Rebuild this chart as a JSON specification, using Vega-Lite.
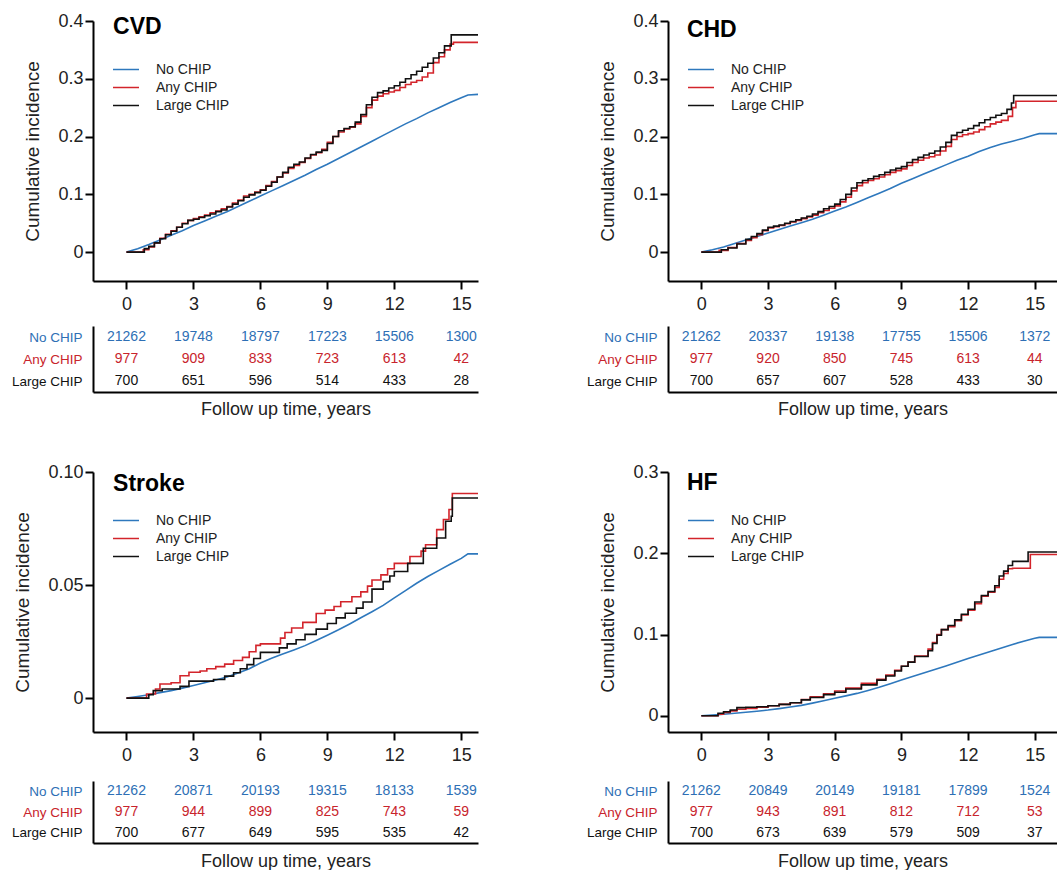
{
  "$schema": "https://vega.github.io/schema/vega-lite/v6.json",
  "padding": {"left": 11, "top": 12, "right": 0, "bottom": 0},
  "background": "white",
  "datasets": {
    "titles": [{"panel": "CVD"}, {"panel": "CHD"}, {"panel": "Stroke"}, {"panel": "HF"}],
    "risk": [
      {"panel":"CVD","group":"No CHIP","year":0,"n":21262},{"panel":"CVD","group":"No CHIP","year":3,"n":19748},{"panel":"CVD","group":"No CHIP","year":6,"n":18797},{"panel":"CVD","group":"No CHIP","year":9,"n":17223},{"panel":"CVD","group":"No CHIP","year":12,"n":15506},{"panel":"CVD","group":"No CHIP","year":15,"n":1300},
      {"panel":"CVD","group":"Any CHIP","year":0,"n":977},{"panel":"CVD","group":"Any CHIP","year":3,"n":909},{"panel":"CVD","group":"Any CHIP","year":6,"n":833},{"panel":"CVD","group":"Any CHIP","year":9,"n":723},{"panel":"CVD","group":"Any CHIP","year":12,"n":613},{"panel":"CVD","group":"Any CHIP","year":15,"n":42},
      {"panel":"CVD","group":"Large CHIP","year":0,"n":700},{"panel":"CVD","group":"Large CHIP","year":3,"n":651},{"panel":"CVD","group":"Large CHIP","year":6,"n":596},{"panel":"CVD","group":"Large CHIP","year":9,"n":514},{"panel":"CVD","group":"Large CHIP","year":12,"n":433},{"panel":"CVD","group":"Large CHIP","year":15,"n":28},
      {"panel":"CHD","group":"No CHIP","year":0,"n":21262},{"panel":"CHD","group":"No CHIP","year":3,"n":20337},{"panel":"CHD","group":"No CHIP","year":6,"n":19138},{"panel":"CHD","group":"No CHIP","year":9,"n":17755},{"panel":"CHD","group":"No CHIP","year":12,"n":15506},{"panel":"CHD","group":"No CHIP","year":15,"n":1372},
      {"panel":"CHD","group":"Any CHIP","year":0,"n":977},{"panel":"CHD","group":"Any CHIP","year":3,"n":920},{"panel":"CHD","group":"Any CHIP","year":6,"n":850},{"panel":"CHD","group":"Any CHIP","year":9,"n":745},{"panel":"CHD","group":"Any CHIP","year":12,"n":613},{"panel":"CHD","group":"Any CHIP","year":15,"n":44},
      {"panel":"CHD","group":"Large CHIP","year":0,"n":700},{"panel":"CHD","group":"Large CHIP","year":3,"n":657},{"panel":"CHD","group":"Large CHIP","year":6,"n":607},{"panel":"CHD","group":"Large CHIP","year":9,"n":528},{"panel":"CHD","group":"Large CHIP","year":12,"n":433},{"panel":"CHD","group":"Large CHIP","year":15,"n":30},
      {"panel":"Stroke","group":"No CHIP","year":0,"n":21262},{"panel":"Stroke","group":"No CHIP","year":3,"n":20871},{"panel":"Stroke","group":"No CHIP","year":6,"n":20193},{"panel":"Stroke","group":"No CHIP","year":9,"n":19315},{"panel":"Stroke","group":"No CHIP","year":12,"n":18133},{"panel":"Stroke","group":"No CHIP","year":15,"n":1539},
      {"panel":"Stroke","group":"Any CHIP","year":0,"n":977},{"panel":"Stroke","group":"Any CHIP","year":3,"n":944},{"panel":"Stroke","group":"Any CHIP","year":6,"n":899},{"panel":"Stroke","group":"Any CHIP","year":9,"n":825},{"panel":"Stroke","group":"Any CHIP","year":12,"n":743},{"panel":"Stroke","group":"Any CHIP","year":15,"n":59},
      {"panel":"Stroke","group":"Large CHIP","year":0,"n":700},{"panel":"Stroke","group":"Large CHIP","year":3,"n":677},{"panel":"Stroke","group":"Large CHIP","year":6,"n":649},{"panel":"Stroke","group":"Large CHIP","year":9,"n":595},{"panel":"Stroke","group":"Large CHIP","year":12,"n":535},{"panel":"Stroke","group":"Large CHIP","year":15,"n":42},
      {"panel":"HF","group":"No CHIP","year":0,"n":21262},{"panel":"HF","group":"No CHIP","year":3,"n":20849},{"panel":"HF","group":"No CHIP","year":6,"n":20149},{"panel":"HF","group":"No CHIP","year":9,"n":19181},{"panel":"HF","group":"No CHIP","year":12,"n":17899},{"panel":"HF","group":"No CHIP","year":15,"n":1524},
      {"panel":"HF","group":"Any CHIP","year":0,"n":977},{"panel":"HF","group":"Any CHIP","year":3,"n":943},{"panel":"HF","group":"Any CHIP","year":6,"n":891},{"panel":"HF","group":"Any CHIP","year":9,"n":812},{"panel":"HF","group":"Any CHIP","year":12,"n":712},{"panel":"HF","group":"Any CHIP","year":15,"n":53},
      {"panel":"HF","group":"Large CHIP","year":0,"n":700},{"panel":"HF","group":"Large CHIP","year":3,"n":673},{"panel":"HF","group":"Large CHIP","year":6,"n":639},{"panel":"HF","group":"Large CHIP","year":9,"n":579},{"panel":"HF","group":"Large CHIP","year":12,"n":509},{"panel":"HF","group":"Large CHIP","year":15,"n":37}
    ],
    "curves": [
      {"panel":"CVD","group":"No CHIP","year":0,"ci":0},{"panel":"CVD","group":"No CHIP","year":0.5,"ci":0.006},{"panel":"CVD","group":"No CHIP","year":1,"ci":0.013},{"panel":"CVD","group":"No CHIP","year":1.5,"ci":0.021},{"panel":"CVD","group":"No CHIP","year":2,"ci":0.029},{"panel":"CVD","group":"No CHIP","year":2.5,"ci":0.037},{"panel":"CVD","group":"No CHIP","year":3,"ci":0.046},{"panel":"CVD","group":"No CHIP","year":3.5,"ci":0.054},{"panel":"CVD","group":"No CHIP","year":4,"ci":0.062},{"panel":"CVD","group":"No CHIP","year":4.5,"ci":0.07},{"panel":"CVD","group":"No CHIP","year":5,"ci":0.079},{"panel":"CVD","group":"No CHIP","year":5.5,"ci":0.088},{"panel":"CVD","group":"No CHIP","year":6,"ci":0.097},{"panel":"CVD","group":"No CHIP","year":6.5,"ci":0.106},{"panel":"CVD","group":"No CHIP","year":7,"ci":0.115},{"panel":"CVD","group":"No CHIP","year":7.5,"ci":0.124},{"panel":"CVD","group":"No CHIP","year":8,"ci":0.133},{"panel":"CVD","group":"No CHIP","year":8.5,"ci":0.143},{"panel":"CVD","group":"No CHIP","year":9,"ci":0.152},{"panel":"CVD","group":"No CHIP","year":9.5,"ci":0.162},{"panel":"CVD","group":"No CHIP","year":10,"ci":0.172},{"panel":"CVD","group":"No CHIP","year":10.5,"ci":0.182},{"panel":"CVD","group":"No CHIP","year":11,"ci":0.192},{"panel":"CVD","group":"No CHIP","year":11.5,"ci":0.202},{"panel":"CVD","group":"No CHIP","year":12,"ci":0.212},{"panel":"CVD","group":"No CHIP","year":12.5,"ci":0.222},{"panel":"CVD","group":"No CHIP","year":13,"ci":0.231},{"panel":"CVD","group":"No CHIP","year":13.5,"ci":0.241},{"panel":"CVD","group":"No CHIP","year":14,"ci":0.25},{"panel":"CVD","group":"No CHIP","year":14.5,"ci":0.259},{"panel":"CVD","group":"No CHIP","year":15,"ci":0.267},{"panel":"CVD","group":"No CHIP","year":15.3,"ci":0.272},{"panel":"CVD","group":"No CHIP","year":15.75,"ci":0.273},
      {"panel":"CVD","group":"Any CHIP","year":0,"ci":0},{"panel":"CVD","group":"Any CHIP","year":0.75,"ci":0.004},{"panel":"CVD","group":"Any CHIP","year":1,"ci":0.009},{"panel":"CVD","group":"Any CHIP","year":1.25,"ci":0.016},{"panel":"CVD","group":"Any CHIP","year":1.5,"ci":0.024},{"panel":"CVD","group":"Any CHIP","year":1.75,"ci":0.031},{"panel":"CVD","group":"Any CHIP","year":2,"ci":0.037},{"panel":"CVD","group":"Any CHIP","year":2.25,"ci":0.043},{"panel":"CVD","group":"Any CHIP","year":2.5,"ci":0.05},{"panel":"CVD","group":"Any CHIP","year":2.75,"ci":0.055},{"panel":"CVD","group":"Any CHIP","year":3,"ci":0.058},{"panel":"CVD","group":"Any CHIP","year":3.25,"ci":0.061},{"panel":"CVD","group":"Any CHIP","year":3.5,"ci":0.064},{"panel":"CVD","group":"Any CHIP","year":3.75,"ci":0.068},{"panel":"CVD","group":"Any CHIP","year":4,"ci":0.071},{"panel":"CVD","group":"Any CHIP","year":4.25,"ci":0.075},{"panel":"CVD","group":"Any CHIP","year":4.5,"ci":0.079},{"panel":"CVD","group":"Any CHIP","year":4.75,"ci":0.085},{"panel":"CVD","group":"Any CHIP","year":5,"ci":0.09},{"panel":"CVD","group":"Any CHIP","year":5.25,"ci":0.097},{"panel":"CVD","group":"Any CHIP","year":5.5,"ci":0.1},{"panel":"CVD","group":"Any CHIP","year":5.75,"ci":0.104},{"panel":"CVD","group":"Any CHIP","year":6,"ci":0.108},{"panel":"CVD","group":"Any CHIP","year":6.25,"ci":0.115},{"panel":"CVD","group":"Any CHIP","year":6.5,"ci":0.122},{"panel":"CVD","group":"Any CHIP","year":6.75,"ci":0.13},{"panel":"CVD","group":"Any CHIP","year":7,"ci":0.137},{"panel":"CVD","group":"Any CHIP","year":7.25,"ci":0.145},{"panel":"CVD","group":"Any CHIP","year":7.5,"ci":0.15},{"panel":"CVD","group":"Any CHIP","year":7.75,"ci":0.155},{"panel":"CVD","group":"Any CHIP","year":8,"ci":0.162},{"panel":"CVD","group":"Any CHIP","year":8.25,"ci":0.168},{"panel":"CVD","group":"Any CHIP","year":8.5,"ci":0.172},{"panel":"CVD","group":"Any CHIP","year":8.75,"ci":0.178},{"panel":"CVD","group":"Any CHIP","year":9,"ci":0.19},{"panel":"CVD","group":"Any CHIP","year":9.25,"ci":0.2},{"panel":"CVD","group":"Any CHIP","year":9.5,"ci":0.208},{"panel":"CVD","group":"Any CHIP","year":9.75,"ci":0.213},{"panel":"CVD","group":"Any CHIP","year":10,"ci":0.216},{"panel":"CVD","group":"Any CHIP","year":10.25,"ci":0.222},{"panel":"CVD","group":"Any CHIP","year":10.5,"ci":0.235},{"panel":"CVD","group":"Any CHIP","year":10.75,"ci":0.25},{"panel":"CVD","group":"Any CHIP","year":11,"ci":0.263},{"panel":"CVD","group":"Any CHIP","year":11.25,"ci":0.27},{"panel":"CVD","group":"Any CHIP","year":11.5,"ci":0.274},{"panel":"CVD","group":"Any CHIP","year":11.75,"ci":0.277},{"panel":"CVD","group":"Any CHIP","year":12,"ci":0.28},{"panel":"CVD","group":"Any CHIP","year":12.25,"ci":0.285},{"panel":"CVD","group":"Any CHIP","year":12.5,"ci":0.29},{"panel":"CVD","group":"Any CHIP","year":12.75,"ci":0.294},{"panel":"CVD","group":"Any CHIP","year":13,"ci":0.297},{"panel":"CVD","group":"Any CHIP","year":13.25,"ci":0.303},{"panel":"CVD","group":"Any CHIP","year":13.5,"ci":0.31},{"panel":"CVD","group":"Any CHIP","year":13.75,"ci":0.328},{"panel":"CVD","group":"Any CHIP","year":14,"ci":0.338},{"panel":"CVD","group":"Any CHIP","year":14.25,"ci":0.35},{"panel":"CVD","group":"Any CHIP","year":14.5,"ci":0.36},{"panel":"CVD","group":"Any CHIP","year":14.65,"ci":0.363},{"panel":"CVD","group":"Any CHIP","year":15.75,"ci":0.363},
      {"panel":"CVD","group":"Large CHIP","year":0,"ci":0},{"panel":"CVD","group":"Large CHIP","year":0.8,"ci":0.006},{"panel":"CVD","group":"Large CHIP","year":1,"ci":0.01},{"panel":"CVD","group":"Large CHIP","year":1.25,"ci":0.016},{"panel":"CVD","group":"Large CHIP","year":1.5,"ci":0.023},{"panel":"CVD","group":"Large CHIP","year":1.75,"ci":0.03},{"panel":"CVD","group":"Large CHIP","year":2,"ci":0.036},{"panel":"CVD","group":"Large CHIP","year":2.25,"ci":0.043},{"panel":"CVD","group":"Large CHIP","year":2.5,"ci":0.049},{"panel":"CVD","group":"Large CHIP","year":2.75,"ci":0.055},{"panel":"CVD","group":"Large CHIP","year":3,"ci":0.057},{"panel":"CVD","group":"Large CHIP","year":3.25,"ci":0.06},{"panel":"CVD","group":"Large CHIP","year":3.5,"ci":0.063},{"panel":"CVD","group":"Large CHIP","year":3.75,"ci":0.066},{"panel":"CVD","group":"Large CHIP","year":4,"ci":0.07},{"panel":"CVD","group":"Large CHIP","year":4.25,"ci":0.073},{"panel":"CVD","group":"Large CHIP","year":4.5,"ci":0.078},{"panel":"CVD","group":"Large CHIP","year":4.75,"ci":0.083},{"panel":"CVD","group":"Large CHIP","year":5,"ci":0.089},{"panel":"CVD","group":"Large CHIP","year":5.25,"ci":0.095},{"panel":"CVD","group":"Large CHIP","year":5.5,"ci":0.099},{"panel":"CVD","group":"Large CHIP","year":5.75,"ci":0.103},{"panel":"CVD","group":"Large CHIP","year":6,"ci":0.107},{"panel":"CVD","group":"Large CHIP","year":6.25,"ci":0.114},{"panel":"CVD","group":"Large CHIP","year":6.5,"ci":0.121},{"panel":"CVD","group":"Large CHIP","year":6.75,"ci":0.13},{"panel":"CVD","group":"Large CHIP","year":7,"ci":0.138},{"panel":"CVD","group":"Large CHIP","year":7.25,"ci":0.147},{"panel":"CVD","group":"Large CHIP","year":7.5,"ci":0.152},{"panel":"CVD","group":"Large CHIP","year":7.75,"ci":0.156},{"panel":"CVD","group":"Large CHIP","year":8,"ci":0.163},{"panel":"CVD","group":"Large CHIP","year":8.25,"ci":0.169},{"panel":"CVD","group":"Large CHIP","year":8.5,"ci":0.173},{"panel":"CVD","group":"Large CHIP","year":8.75,"ci":0.176},{"panel":"CVD","group":"Large CHIP","year":9,"ci":0.188},{"panel":"CVD","group":"Large CHIP","year":9.25,"ci":0.2},{"panel":"CVD","group":"Large CHIP","year":9.5,"ci":0.21},{"panel":"CVD","group":"Large CHIP","year":9.75,"ci":0.214},{"panel":"CVD","group":"Large CHIP","year":10,"ci":0.217},{"panel":"CVD","group":"Large CHIP","year":10.25,"ci":0.225},{"panel":"CVD","group":"Large CHIP","year":10.5,"ci":0.238},{"panel":"CVD","group":"Large CHIP","year":10.75,"ci":0.255},{"panel":"CVD","group":"Large CHIP","year":11,"ci":0.268},{"panel":"CVD","group":"Large CHIP","year":11.25,"ci":0.276},{"panel":"CVD","group":"Large CHIP","year":11.5,"ci":0.279},{"panel":"CVD","group":"Large CHIP","year":11.75,"ci":0.284},{"panel":"CVD","group":"Large CHIP","year":12,"ci":0.288},{"panel":"CVD","group":"Large CHIP","year":12.25,"ci":0.294},{"panel":"CVD","group":"Large CHIP","year":12.5,"ci":0.3},{"panel":"CVD","group":"Large CHIP","year":12.75,"ci":0.307},{"panel":"CVD","group":"Large CHIP","year":13,"ci":0.313},{"panel":"CVD","group":"Large CHIP","year":13.25,"ci":0.32},{"panel":"CVD","group":"Large CHIP","year":13.5,"ci":0.327},{"panel":"CVD","group":"Large CHIP","year":13.75,"ci":0.336},{"panel":"CVD","group":"Large CHIP","year":14,"ci":0.345},{"panel":"CVD","group":"Large CHIP","year":14.25,"ci":0.357},{"panel":"CVD","group":"Large CHIP","year":14.55,"ci":0.376},{"panel":"CVD","group":"Large CHIP","year":15.75,"ci":0.376},

      {"panel":"CHD","group":"No CHIP","year":0,"ci":0},{"panel":"CHD","group":"No CHIP","year":0.5,"ci":0.004},{"panel":"CHD","group":"No CHIP","year":1,"ci":0.009},{"panel":"CHD","group":"No CHIP","year":1.5,"ci":0.015},{"panel":"CHD","group":"No CHIP","year":2,"ci":0.021},{"panel":"CHD","group":"No CHIP","year":2.5,"ci":0.027},{"panel":"CHD","group":"No CHIP","year":3,"ci":0.033},{"panel":"CHD","group":"No CHIP","year":3.5,"ci":0.039},{"panel":"CHD","group":"No CHIP","year":4,"ci":0.045},{"panel":"CHD","group":"No CHIP","year":4.5,"ci":0.051},{"panel":"CHD","group":"No CHIP","year":5,"ci":0.057},{"panel":"CHD","group":"No CHIP","year":5.5,"ci":0.064},{"panel":"CHD","group":"No CHIP","year":6,"ci":0.071},{"panel":"CHD","group":"No CHIP","year":6.5,"ci":0.078},{"panel":"CHD","group":"No CHIP","year":7,"ci":0.086},{"panel":"CHD","group":"No CHIP","year":7.5,"ci":0.094},{"panel":"CHD","group":"No CHIP","year":8,"ci":0.102},{"panel":"CHD","group":"No CHIP","year":8.5,"ci":0.11},{"panel":"CHD","group":"No CHIP","year":9,"ci":0.119},{"panel":"CHD","group":"No CHIP","year":9.5,"ci":0.127},{"panel":"CHD","group":"No CHIP","year":10,"ci":0.135},{"panel":"CHD","group":"No CHIP","year":10.5,"ci":0.143},{"panel":"CHD","group":"No CHIP","year":11,"ci":0.151},{"panel":"CHD","group":"No CHIP","year":11.5,"ci":0.159},{"panel":"CHD","group":"No CHIP","year":12,"ci":0.166},{"panel":"CHD","group":"No CHIP","year":12.5,"ci":0.174},{"panel":"CHD","group":"No CHIP","year":13,"ci":0.181},{"panel":"CHD","group":"No CHIP","year":13.5,"ci":0.187},{"panel":"CHD","group":"No CHIP","year":14,"ci":0.192},{"panel":"CHD","group":"No CHIP","year":14.5,"ci":0.197},{"panel":"CHD","group":"No CHIP","year":15,"ci":0.203},{"panel":"CHD","group":"No CHIP","year":15.2,"ci":0.205},{"panel":"CHD","group":"No CHIP","year":16,"ci":0.205},
      {"panel":"CHD","group":"Any CHIP","year":0,"ci":0},{"panel":"CHD","group":"Any CHIP","year":0.8,"ci":0.003},{"panel":"CHD","group":"Any CHIP","year":1.2,"ci":0.008},{"panel":"CHD","group":"Any CHIP","year":1.6,"ci":0.015},{"panel":"CHD","group":"Any CHIP","year":2,"ci":0.02},{"panel":"CHD","group":"Any CHIP","year":2.25,"ci":0.025},{"panel":"CHD","group":"Any CHIP","year":2.5,"ci":0.03},{"panel":"CHD","group":"Any CHIP","year":2.75,"ci":0.037},{"panel":"CHD","group":"Any CHIP","year":3,"ci":0.042},{"panel":"CHD","group":"Any CHIP","year":3.25,"ci":0.044},{"panel":"CHD","group":"Any CHIP","year":3.5,"ci":0.046},{"panel":"CHD","group":"Any CHIP","year":3.75,"ci":0.049},{"panel":"CHD","group":"Any CHIP","year":4,"ci":0.052},{"panel":"CHD","group":"Any CHIP","year":4.25,"ci":0.055},{"panel":"CHD","group":"Any CHIP","year":4.5,"ci":0.058},{"panel":"CHD","group":"Any CHIP","year":4.75,"ci":0.061},{"panel":"CHD","group":"Any CHIP","year":5,"ci":0.064},{"panel":"CHD","group":"Any CHIP","year":5.25,"ci":0.068},{"panel":"CHD","group":"Any CHIP","year":5.5,"ci":0.072},{"panel":"CHD","group":"Any CHIP","year":5.75,"ci":0.076},{"panel":"CHD","group":"Any CHIP","year":6,"ci":0.08},{"panel":"CHD","group":"Any CHIP","year":6.25,"ci":0.087},{"panel":"CHD","group":"Any CHIP","year":6.5,"ci":0.095},{"panel":"CHD","group":"Any CHIP","year":6.75,"ci":0.106},{"panel":"CHD","group":"Any CHIP","year":7,"ci":0.115},{"panel":"CHD","group":"Any CHIP","year":7.25,"ci":0.12},{"panel":"CHD","group":"Any CHIP","year":7.5,"ci":0.124},{"panel":"CHD","group":"Any CHIP","year":7.75,"ci":0.127},{"panel":"CHD","group":"Any CHIP","year":8,"ci":0.13},{"panel":"CHD","group":"Any CHIP","year":8.25,"ci":0.134},{"panel":"CHD","group":"Any CHIP","year":8.5,"ci":0.138},{"panel":"CHD","group":"Any CHIP","year":8.75,"ci":0.141},{"panel":"CHD","group":"Any CHIP","year":9,"ci":0.144},{"panel":"CHD","group":"Any CHIP","year":9.25,"ci":0.15},{"panel":"CHD","group":"Any CHIP","year":9.5,"ci":0.155},{"panel":"CHD","group":"Any CHIP","year":9.75,"ci":0.159},{"panel":"CHD","group":"Any CHIP","year":10,"ci":0.163},{"panel":"CHD","group":"Any CHIP","year":10.25,"ci":0.165},{"panel":"CHD","group":"Any CHIP","year":10.5,"ci":0.168},{"panel":"CHD","group":"Any CHIP","year":10.75,"ci":0.175},{"panel":"CHD","group":"Any CHIP","year":11,"ci":0.183},{"panel":"CHD","group":"Any CHIP","year":11.25,"ci":0.195},{"panel":"CHD","group":"Any CHIP","year":11.5,"ci":0.2},{"panel":"CHD","group":"Any CHIP","year":11.75,"ci":0.203},{"panel":"CHD","group":"Any CHIP","year":12,"ci":0.205},{"panel":"CHD","group":"Any CHIP","year":12.25,"ci":0.208},{"panel":"CHD","group":"Any CHIP","year":12.5,"ci":0.212},{"panel":"CHD","group":"Any CHIP","year":12.75,"ci":0.217},{"panel":"CHD","group":"Any CHIP","year":13,"ci":0.222},{"panel":"CHD","group":"Any CHIP","year":13.25,"ci":0.225},{"panel":"CHD","group":"Any CHIP","year":13.5,"ci":0.228},{"panel":"CHD","group":"Any CHIP","year":13.8,"ci":0.235},{"panel":"CHD","group":"Any CHIP","year":14,"ci":0.25},{"panel":"CHD","group":"Any CHIP","year":14.15,"ci":0.261},{"panel":"CHD","group":"Any CHIP","year":16,"ci":0.261},
      {"panel":"CHD","group":"Large CHIP","year":0,"ci":0},{"panel":"CHD","group":"Large CHIP","year":0.9,"ci":0.004},{"panel":"CHD","group":"Large CHIP","year":1.2,"ci":0.007},{"panel":"CHD","group":"Large CHIP","year":1.6,"ci":0.014},{"panel":"CHD","group":"Large CHIP","year":2,"ci":0.022},{"panel":"CHD","group":"Large CHIP","year":2.25,"ci":0.027},{"panel":"CHD","group":"Large CHIP","year":2.5,"ci":0.032},{"panel":"CHD","group":"Large CHIP","year":2.75,"ci":0.038},{"panel":"CHD","group":"Large CHIP","year":3,"ci":0.043},{"panel":"CHD","group":"Large CHIP","year":3.25,"ci":0.045},{"panel":"CHD","group":"Large CHIP","year":3.5,"ci":0.047},{"panel":"CHD","group":"Large CHIP","year":3.75,"ci":0.05},{"panel":"CHD","group":"Large CHIP","year":4,"ci":0.053},{"panel":"CHD","group":"Large CHIP","year":4.25,"ci":0.056},{"panel":"CHD","group":"Large CHIP","year":4.5,"ci":0.059},{"panel":"CHD","group":"Large CHIP","year":4.75,"ci":0.062},{"panel":"CHD","group":"Large CHIP","year":5,"ci":0.066},{"panel":"CHD","group":"Large CHIP","year":5.25,"ci":0.07},{"panel":"CHD","group":"Large CHIP","year":5.5,"ci":0.075},{"panel":"CHD","group":"Large CHIP","year":5.75,"ci":0.079},{"panel":"CHD","group":"Large CHIP","year":6,"ci":0.083},{"panel":"CHD","group":"Large CHIP","year":6.25,"ci":0.091},{"panel":"CHD","group":"Large CHIP","year":6.5,"ci":0.1},{"panel":"CHD","group":"Large CHIP","year":6.75,"ci":0.111},{"panel":"CHD","group":"Large CHIP","year":7,"ci":0.12},{"panel":"CHD","group":"Large CHIP","year":7.25,"ci":0.124},{"panel":"CHD","group":"Large CHIP","year":7.5,"ci":0.127},{"panel":"CHD","group":"Large CHIP","year":7.75,"ci":0.131},{"panel":"CHD","group":"Large CHIP","year":8,"ci":0.134},{"panel":"CHD","group":"Large CHIP","year":8.25,"ci":0.138},{"panel":"CHD","group":"Large CHIP","year":8.5,"ci":0.142},{"panel":"CHD","group":"Large CHIP","year":8.75,"ci":0.145},{"panel":"CHD","group":"Large CHIP","year":9,"ci":0.148},{"panel":"CHD","group":"Large CHIP","year":9.25,"ci":0.155},{"panel":"CHD","group":"Large CHIP","year":9.5,"ci":0.16},{"panel":"CHD","group":"Large CHIP","year":9.75,"ci":0.164},{"panel":"CHD","group":"Large CHIP","year":10,"ci":0.168},{"panel":"CHD","group":"Large CHIP","year":10.25,"ci":0.171},{"panel":"CHD","group":"Large CHIP","year":10.5,"ci":0.175},{"panel":"CHD","group":"Large CHIP","year":10.75,"ci":0.182},{"panel":"CHD","group":"Large CHIP","year":11,"ci":0.19},{"panel":"CHD","group":"Large CHIP","year":11.25,"ci":0.202},{"panel":"CHD","group":"Large CHIP","year":11.5,"ci":0.207},{"panel":"CHD","group":"Large CHIP","year":11.75,"ci":0.211},{"panel":"CHD","group":"Large CHIP","year":12,"ci":0.214},{"panel":"CHD","group":"Large CHIP","year":12.25,"ci":0.219},{"panel":"CHD","group":"Large CHIP","year":12.5,"ci":0.224},{"panel":"CHD","group":"Large CHIP","year":12.75,"ci":0.229},{"panel":"CHD","group":"Large CHIP","year":13,"ci":0.233},{"panel":"CHD","group":"Large CHIP","year":13.25,"ci":0.237},{"panel":"CHD","group":"Large CHIP","year":13.5,"ci":0.24},{"panel":"CHD","group":"Large CHIP","year":13.75,"ci":0.247},{"panel":"CHD","group":"Large CHIP","year":13.95,"ci":0.258},{"panel":"CHD","group":"Large CHIP","year":14.05,"ci":0.271},{"panel":"CHD","group":"Large CHIP","year":16,"ci":0.271},

      {"panel":"Stroke","group":"No CHIP","year":0,"ci":0},{"panel":"Stroke","group":"No CHIP","year":0.5,"ci":0.0007},{"panel":"Stroke","group":"No CHIP","year":1,"ci":0.0015},{"panel":"Stroke","group":"No CHIP","year":1.5,"ci":0.0024},{"panel":"Stroke","group":"No CHIP","year":2,"ci":0.0033},{"panel":"Stroke","group":"No CHIP","year":2.5,"ci":0.0044},{"panel":"Stroke","group":"No CHIP","year":3,"ci":0.0056},{"panel":"Stroke","group":"No CHIP","year":3.5,"ci":0.0068},{"panel":"Stroke","group":"No CHIP","year":4,"ci":0.008},{"panel":"Stroke","group":"No CHIP","year":4.5,"ci":0.0093},{"panel":"Stroke","group":"No CHIP","year":5,"ci":0.0111},{"panel":"Stroke","group":"No CHIP","year":5.5,"ci":0.013},{"panel":"Stroke","group":"No CHIP","year":6,"ci":0.0155},{"panel":"Stroke","group":"No CHIP","year":6.5,"ci":0.0176},{"panel":"Stroke","group":"No CHIP","year":7,"ci":0.0195},{"panel":"Stroke","group":"No CHIP","year":7.5,"ci":0.0213},{"panel":"Stroke","group":"No CHIP","year":8,"ci":0.0232},{"panel":"Stroke","group":"No CHIP","year":8.5,"ci":0.0255},{"panel":"Stroke","group":"No CHIP","year":9,"ci":0.0278},{"panel":"Stroke","group":"No CHIP","year":9.5,"ci":0.0302},{"panel":"Stroke","group":"No CHIP","year":10,"ci":0.0328},{"panel":"Stroke","group":"No CHIP","year":10.5,"ci":0.0355},{"panel":"Stroke","group":"No CHIP","year":11,"ci":0.0382},{"panel":"Stroke","group":"No CHIP","year":11.5,"ci":0.041},{"panel":"Stroke","group":"No CHIP","year":12,"ci":0.0443},{"panel":"Stroke","group":"No CHIP","year":12.5,"ci":0.0475},{"panel":"Stroke","group":"No CHIP","year":13,"ci":0.0508},{"panel":"Stroke","group":"No CHIP","year":13.5,"ci":0.0538},{"panel":"Stroke","group":"No CHIP","year":14,"ci":0.0565},{"panel":"Stroke","group":"No CHIP","year":14.5,"ci":0.0592},{"panel":"Stroke","group":"No CHIP","year":15,"ci":0.0618},{"panel":"Stroke","group":"No CHIP","year":15.3,"ci":0.0638},{"panel":"Stroke","group":"No CHIP","year":15.75,"ci":0.0638},
      {"panel":"Stroke","group":"Any CHIP","year":0,"ci":0},{"panel":"Stroke","group":"Any CHIP","year":0.9,"ci":0.0018},{"panel":"Stroke","group":"Any CHIP","year":1.3,"ci":0.004},{"panel":"Stroke","group":"Any CHIP","year":1.5,"ci":0.0062},{"panel":"Stroke","group":"Any CHIP","year":2,"ci":0.0068},{"panel":"Stroke","group":"Any CHIP","year":2.4,"ci":0.0099},{"panel":"Stroke","group":"Any CHIP","year":2.8,"ci":0.0114},{"panel":"Stroke","group":"Any CHIP","year":3.3,"ci":0.012},{"panel":"Stroke","group":"Any CHIP","year":3.6,"ci":0.013},{"panel":"Stroke","group":"Any CHIP","year":4,"ci":0.0139},{"panel":"Stroke","group":"Any CHIP","year":4.4,"ci":0.015},{"panel":"Stroke","group":"Any CHIP","year":4.8,"ci":0.0166},{"panel":"Stroke","group":"Any CHIP","year":5.2,"ci":0.018},{"panel":"Stroke","group":"Any CHIP","year":5.5,"ci":0.0205},{"panel":"Stroke","group":"Any CHIP","year":5.8,"ci":0.0233},{"panel":"Stroke","group":"Any CHIP","year":6,"ci":0.024},{"panel":"Stroke","group":"Any CHIP","year":6.9,"ci":0.0265},{"panel":"Stroke","group":"Any CHIP","year":7.1,"ci":0.029},{"panel":"Stroke","group":"Any CHIP","year":7.4,"ci":0.031},{"panel":"Stroke","group":"Any CHIP","year":7.9,"ci":0.0335},{"panel":"Stroke","group":"Any CHIP","year":8.5,"ci":0.0374},{"panel":"Stroke","group":"Any CHIP","year":8.9,"ci":0.0389},{"panel":"Stroke","group":"Any CHIP","year":9.3,"ci":0.0405},{"panel":"Stroke","group":"Any CHIP","year":9.6,"ci":0.0426},{"panel":"Stroke","group":"Any CHIP","year":10.1,"ci":0.0448},{"panel":"Stroke","group":"Any CHIP","year":10.5,"ci":0.047},{"panel":"Stroke","group":"Any CHIP","year":10.8,"ci":0.0495},{"panel":"Stroke","group":"Any CHIP","year":11,"ci":0.0522},{"panel":"Stroke","group":"Any CHIP","year":11.4,"ci":0.0545},{"panel":"Stroke","group":"Any CHIP","year":11.7,"ci":0.0572},{"panel":"Stroke","group":"Any CHIP","year":12,"ci":0.0596},{"panel":"Stroke","group":"Any CHIP","year":12.7,"ci":0.0626},{"panel":"Stroke","group":"Any CHIP","year":13.2,"ci":0.065},{"panel":"Stroke","group":"Any CHIP","year":13.4,"ci":0.0678},{"panel":"Stroke","group":"Any CHIP","year":13.9,"ci":0.0745},{"panel":"Stroke","group":"Any CHIP","year":14.2,"ci":0.079},{"panel":"Stroke","group":"Any CHIP","year":14.45,"ci":0.0834},{"panel":"Stroke","group":"Any CHIP","year":14.6,"ci":0.0905},{"panel":"Stroke","group":"Any CHIP","year":15.75,"ci":0.0905},
      {"panel":"Stroke","group":"Large CHIP","year":0,"ci":0},{"panel":"Stroke","group":"Large CHIP","year":1,"ci":0.0015},{"panel":"Stroke","group":"Large CHIP","year":1.2,"ci":0.0033},{"panel":"Stroke","group":"Large CHIP","year":1.6,"ci":0.004},{"panel":"Stroke","group":"Large CHIP","year":2.4,"ci":0.0052},{"panel":"Stroke","group":"Large CHIP","year":2.8,"ci":0.0075},{"panel":"Stroke","group":"Large CHIP","year":3.9,"ci":0.0082},{"panel":"Stroke","group":"Large CHIP","year":4.4,"ci":0.0097},{"panel":"Stroke","group":"Large CHIP","year":4.8,"ci":0.0112},{"panel":"Stroke","group":"Large CHIP","year":5.1,"ci":0.013},{"panel":"Stroke","group":"Large CHIP","year":5.4,"ci":0.0148},{"panel":"Stroke","group":"Large CHIP","year":5.7,"ci":0.0175},{"panel":"Stroke","group":"Large CHIP","year":6,"ci":0.0202},{"panel":"Stroke","group":"Large CHIP","year":6.85,"ci":0.0222},{"panel":"Stroke","group":"Large CHIP","year":7.2,"ci":0.024},{"panel":"Stroke","group":"Large CHIP","year":7.6,"ci":0.0258},{"panel":"Stroke","group":"Large CHIP","year":8,"ci":0.0282},{"panel":"Stroke","group":"Large CHIP","year":8.5,"ci":0.0305},{"panel":"Stroke","group":"Large CHIP","year":9,"ci":0.033},{"panel":"Stroke","group":"Large CHIP","year":9.4,"ci":0.0355},{"panel":"Stroke","group":"Large CHIP","year":9.8,"ci":0.0375},{"panel":"Stroke","group":"Large CHIP","year":10.3,"ci":0.0398},{"panel":"Stroke","group":"Large CHIP","year":10.6,"ci":0.0425},{"panel":"Stroke","group":"Large CHIP","year":11,"ci":0.0482},{"panel":"Stroke","group":"Large CHIP","year":11.5,"ci":0.0515},{"panel":"Stroke","group":"Large CHIP","year":11.8,"ci":0.054},{"panel":"Stroke","group":"Large CHIP","year":12,"ci":0.056},{"panel":"Stroke","group":"Large CHIP","year":12.6,"ci":0.0596},{"panel":"Stroke","group":"Large CHIP","year":13.3,"ci":0.0663},{"panel":"Stroke","group":"Large CHIP","year":13.9,"ci":0.0708},{"panel":"Stroke","group":"Large CHIP","year":14.3,"ci":0.0782},{"panel":"Stroke","group":"Large CHIP","year":14.55,"ci":0.0804},{"panel":"Stroke","group":"Large CHIP","year":14.6,"ci":0.0885},{"panel":"Stroke","group":"Large CHIP","year":15.75,"ci":0.0885},

      {"panel":"HF","group":"No CHIP","year":0,"ci":0},{"panel":"HF","group":"No CHIP","year":0.5,"ci":0.0008},{"panel":"HF","group":"No CHIP","year":1,"ci":0.0018},{"panel":"HF","group":"No CHIP","year":1.5,"ci":0.003},{"panel":"HF","group":"No CHIP","year":2,"ci":0.0043},{"panel":"HF","group":"No CHIP","year":2.5,"ci":0.0056},{"panel":"HF","group":"No CHIP","year":3,"ci":0.007},{"panel":"HF","group":"No CHIP","year":3.5,"ci":0.0088},{"panel":"HF","group":"No CHIP","year":4,"ci":0.0107},{"panel":"HF","group":"No CHIP","year":4.5,"ci":0.0128},{"panel":"HF","group":"No CHIP","year":5,"ci":0.0155},{"panel":"HF","group":"No CHIP","year":5.5,"ci":0.0185},{"panel":"HF","group":"No CHIP","year":6,"ci":0.0215},{"panel":"HF","group":"No CHIP","year":6.5,"ci":0.0245},{"panel":"HF","group":"No CHIP","year":7,"ci":0.0275},{"panel":"HF","group":"No CHIP","year":7.5,"ci":0.0312},{"panel":"HF","group":"No CHIP","year":8,"ci":0.035},{"panel":"HF","group":"No CHIP","year":8.5,"ci":0.0395},{"panel":"HF","group":"No CHIP","year":9,"ci":0.044},{"panel":"HF","group":"No CHIP","year":9.5,"ci":0.0482},{"panel":"HF","group":"No CHIP","year":10,"ci":0.0525},{"panel":"HF","group":"No CHIP","year":10.5,"ci":0.0568},{"panel":"HF","group":"No CHIP","year":11,"ci":0.0612},{"panel":"HF","group":"No CHIP","year":11.5,"ci":0.0658},{"panel":"HF","group":"No CHIP","year":12,"ci":0.0705},{"panel":"HF","group":"No CHIP","year":12.5,"ci":0.0748},{"panel":"HF","group":"No CHIP","year":13,"ci":0.0792},{"panel":"HF","group":"No CHIP","year":13.5,"ci":0.0835},{"panel":"HF","group":"No CHIP","year":14,"ci":0.0878},{"panel":"HF","group":"No CHIP","year":14.5,"ci":0.0918},{"panel":"HF","group":"No CHIP","year":15,"ci":0.0955},{"panel":"HF","group":"No CHIP","year":15.2,"ci":0.0965},{"panel":"HF","group":"No CHIP","year":16,"ci":0.0965},
      {"panel":"HF","group":"Any CHIP","year":0,"ci":0},{"panel":"HF","group":"Any CHIP","year":0.75,"ci":0.002},{"panel":"HF","group":"Any CHIP","year":1,"ci":0.004},{"panel":"HF","group":"Any CHIP","year":1.3,"ci":0.006},{"panel":"HF","group":"Any CHIP","year":1.6,"ci":0.008},{"panel":"HF","group":"Any CHIP","year":2,"ci":0.009},{"panel":"HF","group":"Any CHIP","year":2.5,"ci":0.0105},{"panel":"HF","group":"Any CHIP","year":3,"ci":0.0123},{"panel":"HF","group":"Any CHIP","year":3.5,"ci":0.014},{"panel":"HF","group":"Any CHIP","year":4,"ci":0.016},{"panel":"HF","group":"Any CHIP","year":4.5,"ci":0.02},{"panel":"HF","group":"Any CHIP","year":4.9,"ci":0.0234},{"panel":"HF","group":"Any CHIP","year":5.5,"ci":0.027},{"panel":"HF","group":"Any CHIP","year":6,"ci":0.0304},{"panel":"HF","group":"Any CHIP","year":6.5,"ci":0.034},{"panel":"HF","group":"Any CHIP","year":7.2,"ci":0.0398},{"panel":"HF","group":"Any CHIP","year":7.9,"ci":0.0448},{"panel":"HF","group":"Any CHIP","year":8.3,"ci":0.05},{"panel":"HF","group":"Any CHIP","year":8.7,"ci":0.056},{"panel":"HF","group":"Any CHIP","year":9,"ci":0.061},{"panel":"HF","group":"Any CHIP","year":9.3,"ci":0.066},{"panel":"HF","group":"Any CHIP","year":9.6,"ci":0.0735},{"panel":"HF","group":"Any CHIP","year":10.2,"ci":0.082},{"panel":"HF","group":"Any CHIP","year":10.4,"ci":0.09},{"panel":"HF","group":"Any CHIP","year":10.6,"ci":0.1},{"panel":"HF","group":"Any CHIP","year":10.8,"ci":0.106},{"panel":"HF","group":"Any CHIP","year":11.1,"ci":0.1097},{"panel":"HF","group":"Any CHIP","year":11.4,"ci":0.117},{"panel":"HF","group":"Any CHIP","year":11.7,"ci":0.124},{"panel":"HF","group":"Any CHIP","year":12,"ci":0.13},{"panel":"HF","group":"Any CHIP","year":12.3,"ci":0.138},{"panel":"HF","group":"Any CHIP","year":12.6,"ci":0.147},{"panel":"HF","group":"Any CHIP","year":12.9,"ci":0.152},{"panel":"HF","group":"Any CHIP","year":13.2,"ci":0.158},{"panel":"HF","group":"Any CHIP","year":13.4,"ci":0.168},{"panel":"HF","group":"Any CHIP","year":13.6,"ci":0.175},{"panel":"HF","group":"Any CHIP","year":13.8,"ci":0.181},{"panel":"HF","group":"Any CHIP","year":14,"ci":0.1815},{"panel":"HF","group":"Any CHIP","year":14.8,"ci":0.1985},{"panel":"HF","group":"Any CHIP","year":16,"ci":0.1985},
      {"panel":"HF","group":"Large CHIP","year":0,"ci":0},{"panel":"HF","group":"Large CHIP","year":0.75,"ci":0.003},{"panel":"HF","group":"Large CHIP","year":1,"ci":0.005},{"panel":"HF","group":"Large CHIP","year":1.3,"ci":0.007},{"panel":"HF","group":"Large CHIP","year":1.6,"ci":0.01},{"panel":"HF","group":"Large CHIP","year":2,"ci":0.0105},{"panel":"HF","group":"Large CHIP","year":2.5,"ci":0.011},{"panel":"HF","group":"Large CHIP","year":3,"ci":0.0123},{"panel":"HF","group":"Large CHIP","year":3.5,"ci":0.014},{"panel":"HF","group":"Large CHIP","year":4,"ci":0.016},{"panel":"HF","group":"Large CHIP","year":4.5,"ci":0.0195},{"panel":"HF","group":"Large CHIP","year":4.9,"ci":0.0225},{"panel":"HF","group":"Large CHIP","year":5.5,"ci":0.026},{"panel":"HF","group":"Large CHIP","year":6,"ci":0.029},{"panel":"HF","group":"Large CHIP","year":6.5,"ci":0.033},{"panel":"HF","group":"Large CHIP","year":7.2,"ci":0.038},{"panel":"HF","group":"Large CHIP","year":7.9,"ci":0.0438},{"panel":"HF","group":"Large CHIP","year":8.3,"ci":0.049},{"panel":"HF","group":"Large CHIP","year":8.7,"ci":0.055},{"panel":"HF","group":"Large CHIP","year":9,"ci":0.061},{"panel":"HF","group":"Large CHIP","year":9.3,"ci":0.066},{"panel":"HF","group":"Large CHIP","year":9.6,"ci":0.073},{"panel":"HF","group":"Large CHIP","year":10.2,"ci":0.08},{"panel":"HF","group":"Large CHIP","year":10.4,"ci":0.089},{"panel":"HF","group":"Large CHIP","year":10.6,"ci":0.099},{"panel":"HF","group":"Large CHIP","year":10.8,"ci":0.106},{"panel":"HF","group":"Large CHIP","year":11.1,"ci":0.111},{"panel":"HF","group":"Large CHIP","year":11.4,"ci":0.118},{"panel":"HF","group":"Large CHIP","year":11.7,"ci":0.125},{"panel":"HF","group":"Large CHIP","year":12,"ci":0.131},{"panel":"HF","group":"Large CHIP","year":12.3,"ci":0.14},{"panel":"HF","group":"Large CHIP","year":12.6,"ci":0.148},{"panel":"HF","group":"Large CHIP","year":12.9,"ci":0.153},{"panel":"HF","group":"Large CHIP","year":13.2,"ci":0.16},{"panel":"HF","group":"Large CHIP","year":13.4,"ci":0.172},{"panel":"HF","group":"Large CHIP","year":13.6,"ci":0.178},{"panel":"HF","group":"Large CHIP","year":13.8,"ci":0.185},{"panel":"HF","group":"Large CHIP","year":14,"ci":0.19},{"panel":"HF","group":"Large CHIP","year":14.7,"ci":0.2015},{"panel":"HF","group":"Large CHIP","year":16,"ci":0.2015}
    ]
  },
  "concat": [
    {
      "vconcat": [
        {
          "width": 385, "height": 260,
          "layer": [
            {"data": {"name": "curves"}, "transform": [{"filter": "datum.panel === 'CVD' && datum.group === 'No CHIP'"}], "mark": {"type": "line", "strokeWidth": 1.6, "interpolate": "linear"},
             "encoding": {
              "x": {"field": "year", "type": "quantitative", "scale": {"domain": [-1.5, 15.75], "nice": false, "zero": false}, "axis": {"values": [0, 3, 6, 9, 12, 15], "title": null}},
              "y": {"field": "ci", "type": "quantitative", "scale": {"domain": [-0.05, 0.4], "nice": false, "zero": false}, "axis": {"values": [0, 0.1, 0.2, 0.3, 0.4], "title": "Cumulative incidence", "labelExpr": "datum.value === 0 ? '0' : format(datum.value, '.1f')"}},
              "color": {"field": "group", "type": "nominal", "scale": {"domain": ["No CHIP", "Any CHIP", "Large CHIP"], "range": ["#2e78bd", "#d3242b", "#111111"]}}
             }},
            {"data": {"name": "curves"}, "transform": [{"filter": "datum.panel === 'CVD' && datum.group !== 'No CHIP'"}], "mark": {"type": "line", "strokeWidth": 1.6, "interpolate": "step-after"},
             "encoding": {
              "x": {"field": "year", "type": "quantitative"},
              "y": {"field": "ci", "type": "quantitative"},
              "color": {"field": "group", "type": "nominal"}
             }},
            {"data": {"name": "titles"}, "transform": [{"filter": "datum.panel === 'CVD'"}], "mark": {"type": "text", "align": "left", "baseline": "alphabetic", "dy": 12.6, "fontSize": 23, "fontWeight": "bold", "font": "Liberation Sans", "fill": "#000000"},
             "encoding": {"x": {"datum": -0.6, "type": "quantitative"}, "y": {"datum": 0.4, "type": "quantitative"}, "text": {"field": "panel", "type": "nominal"}}}
          ]
        },
        {
          "width": 385, "height": 66,
          "data": {"name": "risk"},
          "transform": [{"filter": "datum.panel === 'CVD'"}],
          "mark": {"type": "text", "fontSize": 14, "font": "Liberation Sans"},
          "encoding": {
            "x": {"field": "year", "type": "quantitative", "scale": {"domain": [-1.5, 15.75], "nice": false, "zero": false}, "axis": {"title": "Follow up time, years", "labels": false, "ticks": false, "titlePadding": 8, "titleFontSize": 18}},
            "y": {"field": "group", "type": "nominal", "sort": ["No CHIP", "Any CHIP", "Large CHIP"], "axis": {"title": null, "ticks": false, "labelPadding": 11, "labelFontSize": 13.5, "labelColor": {"condition": [{"test": "datum.value === 'No CHIP'", "value": "#2e6fb5"}, {"test": "datum.value === 'Any CHIP'", "value": "#c8242c"}], "value": "#111111"}}},
            "text": {"field": "n", "type": "quantitative", "format": "d"},
            "color": {"field": "group", "type": "nominal", "scale": {"domain": ["No CHIP", "Any CHIP", "Large CHIP"], "range": ["#2e6fb5", "#c8242c", "#111111"]}, "legend": null}
          }
        }
      ],
      "spacing": 13,
      "resolve": {"scale": {"color": "independent", "x": "independent", "y": "independent"}, "legend": {"color": "independent"}}
    },
    {
      "vconcat": [
        {
          "width": 389, "height": 260,
          "layer": [
            {"data": {"name": "curves"}, "transform": [{"filter": "datum.panel === 'CHD' && datum.group === 'No CHIP'"}], "mark": {"type": "line", "strokeWidth": 1.6, "interpolate": "linear"},
             "encoding": {
              "x": {"field": "year", "type": "quantitative", "scale": {"domain": [-1.5, 16], "nice": false, "zero": false}, "axis": {"values": [0, 3, 6, 9, 12, 15], "title": null}},
              "y": {"field": "ci", "type": "quantitative", "scale": {"domain": [-0.05, 0.4], "nice": false, "zero": false}, "axis": {"values": [0, 0.1, 0.2, 0.3, 0.4], "title": "Cumulative incidence", "labelExpr": "datum.value === 0 ? '0' : format(datum.value, '.1f')"}},
              "color": {"field": "group", "type": "nominal", "scale": {"domain": ["No CHIP", "Any CHIP", "Large CHIP"], "range": ["#2e78bd", "#d3242b", "#111111"]}}
             }},
            {"data": {"name": "curves"}, "transform": [{"filter": "datum.panel === 'CHD' && datum.group !== 'No CHIP'"}], "mark": {"type": "line", "strokeWidth": 1.6, "interpolate": "step-after"},
             "encoding": {
              "x": {"field": "year", "type": "quantitative"},
              "y": {"field": "ci", "type": "quantitative"},
              "color": {"field": "group", "type": "nominal"}
             }},
            {"data": {"name": "titles"}, "transform": [{"filter": "datum.panel === 'CHD'"}], "mark": {"type": "text", "align": "left", "baseline": "alphabetic", "dy": 16, "fontSize": 23, "fontWeight": "bold", "font": "Liberation Sans", "fill": "#000000"},
             "encoding": {"x": {"datum": -0.65, "type": "quantitative"}, "y": {"datum": 0.4, "type": "quantitative"}, "text": {"field": "panel", "type": "nominal"}}}
          ]
        },
        {
          "width": 389, "height": 66,
          "data": {"name": "risk"},
          "transform": [{"filter": "datum.panel === 'CHD'"}],
          "mark": {"type": "text", "fontSize": 14, "font": "Liberation Sans"},
          "encoding": {
            "x": {"field": "year", "type": "quantitative", "scale": {"domain": [-1.5, 16], "nice": false, "zero": false}, "axis": {"title": "Follow up time, years", "labels": false, "ticks": false, "titlePadding": 8, "titleFontSize": 18}},
            "y": {"field": "group", "type": "nominal", "sort": ["No CHIP", "Any CHIP", "Large CHIP"], "axis": {"title": null, "ticks": false, "labelPadding": 11, "labelFontSize": 13.5, "labelColor": {"condition": [{"test": "datum.value === 'No CHIP'", "value": "#2e6fb5"}, {"test": "datum.value === 'Any CHIP'", "value": "#c8242c"}], "value": "#111111"}}},
            "text": {"field": "n", "type": "quantitative", "format": "d"},
            "color": {"field": "group", "type": "nominal", "scale": {"domain": ["No CHIP", "Any CHIP", "Large CHIP"], "range": ["#2e6fb5", "#c8242c", "#111111"]}, "legend": null}
          }
        }
      ],
      "spacing": 13,
      "resolve": {"scale": {"color": "independent", "x": "independent", "y": "independent"}, "legend": {"color": "independent"}}
    },
    {
      "vconcat": [
        {
          "width": 385, "height": 260,
          "layer": [
            {"data": {"name": "curves"}, "transform": [{"filter": "datum.panel === 'Stroke' && datum.group === 'No CHIP'"}], "mark": {"type": "line", "strokeWidth": 1.6, "interpolate": "linear"},
             "encoding": {
              "x": {"field": "year", "type": "quantitative", "scale": {"domain": [-1.5, 15.75], "nice": false, "zero": false}, "axis": {"values": [0, 3, 6, 9, 12, 15], "title": null}},
              "y": {"field": "ci", "type": "quantitative", "scale": {"domain": [-0.015, 0.1], "nice": false, "zero": false}, "axis": {"values": [0, 0.05, 0.1], "title": "Cumulative incidence", "labelExpr": "datum.value === 0 ? '0' : format(datum.value, '.2f')"}},
              "color": {"field": "group", "type": "nominal", "scale": {"domain": ["No CHIP", "Any CHIP", "Large CHIP"], "range": ["#2e78bd", "#d3242b", "#111111"]}}
             }},
            {"data": {"name": "curves"}, "transform": [{"filter": "datum.panel === 'Stroke' && datum.group !== 'No CHIP'"}], "mark": {"type": "line", "strokeWidth": 1.6, "interpolate": "step-after"},
             "encoding": {
              "x": {"field": "year", "type": "quantitative"},
              "y": {"field": "ci", "type": "quantitative"},
              "color": {"field": "group", "type": "nominal"}
             }},
            {"data": {"name": "titles"}, "transform": [{"filter": "datum.panel === 'Stroke'"}], "mark": {"type": "text", "align": "left", "baseline": "alphabetic", "dy": 19, "fontSize": 23, "fontWeight": "bold", "font": "Liberation Sans", "fill": "#000000"},
             "encoding": {"x": {"datum": -0.6, "type": "quantitative"}, "y": {"datum": 0.1, "type": "quantitative"}, "text": {"field": "panel", "type": "nominal"}}}
          ]
        },
        {
          "width": 385, "height": 62,
          "data": {"name": "risk"},
          "transform": [{"filter": "datum.panel === 'Stroke'"}],
          "mark": {"type": "text", "fontSize": 14, "font": "Liberation Sans"},
          "encoding": {
            "x": {"field": "year", "type": "quantitative", "scale": {"domain": [-1.5, 15.75], "nice": false, "zero": false}, "axis": {"title": "Follow up time, years", "labels": false, "ticks": false, "titlePadding": 9, "titleFontSize": 18}},
            "y": {"field": "group", "type": "nominal", "sort": ["No CHIP", "Any CHIP", "Large CHIP"], "axis": {"title": null, "ticks": false, "labelPadding": 11, "labelFontSize": 13.5, "labelColor": {"condition": [{"test": "datum.value === 'No CHIP'", "value": "#2e6fb5"}, {"test": "datum.value === 'Any CHIP'", "value": "#c8242c"}], "value": "#111111"}}},
            "text": {"field": "n", "type": "quantitative", "format": "d"},
            "color": {"field": "group", "type": "nominal", "scale": {"domain": ["No CHIP", "Any CHIP", "Large CHIP"], "range": ["#2e6fb5", "#c8242c", "#111111"]}, "legend": null}
          }
        }
      ],
      "spacing": 17,
      "resolve": {"scale": {"color": "independent", "x": "independent", "y": "independent"}, "legend": {"color": "independent"}}
    },
    {
      "vconcat": [
        {
          "width": 389, "height": 260,
          "layer": [
            {"data": {"name": "curves"}, "transform": [{"filter": "datum.panel === 'HF' && datum.group === 'No CHIP'"}], "mark": {"type": "line", "strokeWidth": 1.6, "interpolate": "linear"},
             "encoding": {
              "x": {"field": "year", "type": "quantitative", "scale": {"domain": [-1.5, 16], "nice": false, "zero": false}, "axis": {"values": [0, 3, 6, 9, 12, 15], "title": null}},
              "y": {"field": "ci", "type": "quantitative", "scale": {"domain": [-0.02, 0.3], "nice": false, "zero": false}, "axis": {"values": [0, 0.1, 0.2, 0.3], "title": "Cumulative incidence", "labelExpr": "datum.value === 0 ? '0' : format(datum.value, '.1f')"}},
              "color": {"field": "group", "type": "nominal", "scale": {"domain": ["No CHIP", "Any CHIP", "Large CHIP"], "range": ["#2e78bd", "#d3242b", "#111111"]}}
             }},
            {"data": {"name": "curves"}, "transform": [{"filter": "datum.panel === 'HF' && datum.group !== 'No CHIP'"}], "mark": {"type": "line", "strokeWidth": 1.6, "interpolate": "step-after"},
             "encoding": {
              "x": {"field": "year", "type": "quantitative"},
              "y": {"field": "ci", "type": "quantitative"},
              "color": {"field": "group", "type": "nominal"}
             }},
            {"data": {"name": "titles"}, "transform": [{"filter": "datum.panel === 'HF'"}], "mark": {"type": "text", "align": "left", "baseline": "alphabetic", "dy": 17.7, "fontSize": 23, "fontWeight": "bold", "font": "Liberation Sans", "fill": "#000000"},
             "encoding": {"x": {"datum": -0.65, "type": "quantitative"}, "y": {"datum": 0.3, "type": "quantitative"}, "text": {"field": "panel", "type": "nominal"}}}
          ]
        },
        {
          "width": 389, "height": 62,
          "data": {"name": "risk"},
          "transform": [{"filter": "datum.panel === 'HF'"}],
          "mark": {"type": "text", "fontSize": 14, "font": "Liberation Sans"},
          "encoding": {
            "x": {"field": "year", "type": "quantitative", "scale": {"domain": [-1.5, 16], "nice": false, "zero": false}, "axis": {"title": "Follow up time, years", "labels": false, "ticks": false, "titlePadding": 9, "titleFontSize": 18}},
            "y": {"field": "group", "type": "nominal", "sort": ["No CHIP", "Any CHIP", "Large CHIP"], "axis": {"title": null, "ticks": false, "labelPadding": 11, "labelFontSize": 13.5, "labelColor": {"condition": [{"test": "datum.value === 'No CHIP'", "value": "#2e6fb5"}, {"test": "datum.value === 'Any CHIP'", "value": "#c8242c"}], "value": "#111111"}}},
            "text": {"field": "n", "type": "quantitative", "format": "d"},
            "color": {"field": "group", "type": "nominal", "scale": {"domain": ["No CHIP", "Any CHIP", "Large CHIP"], "range": ["#2e6fb5", "#c8242c", "#111111"]}, "legend": null}
          }
        }
      ],
      "spacing": 17,
      "resolve": {"scale": {"color": "independent", "x": "independent", "y": "independent"}, "legend": {"color": "independent"}}
    }
  ],
  "columns": 2,
  "spacing": {"row": 45, "column": 104},
  "resolve": {"scale": {"color": "independent", "x": "independent", "y": "independent"}, "legend": {"color": "independent"}},
  "config": {
    "font": "Liberation Sans",
    "view": {"stroke": null},
    "axis": {"grid": false, "domainColor": "#000000", "domainWidth": 2, "tickColor": "#000000", "tickWidth": 2, "tickSize": 8, "labelFont": "Liberation Sans", "labelFontSize": 18, "labelColor": "#222222", "titleFont": "Liberation Sans", "titleFontSize": 19, "titleFontWeight": "normal", "titleColor": "#222222"},
    "axisX": {"labelPadding": 6, "labelFontSize": 18},
    "axisY": {"labelPadding": 2, "titlePadding": 15},
    "legend": {"orient": "none", "legendX": 22.5, "legendY": 38, "title": null, "symbolType": "M-1.37,0H1.37", "symbolSize": 361, "symbolStrokeWidth": 1.5, "labelFont": "Liberation Sans", "labelFontSize": 14, "labelColor": "#222222", "labelOffset": 19.5, "rowPadding": 0, "padding": 0}
  }
}
